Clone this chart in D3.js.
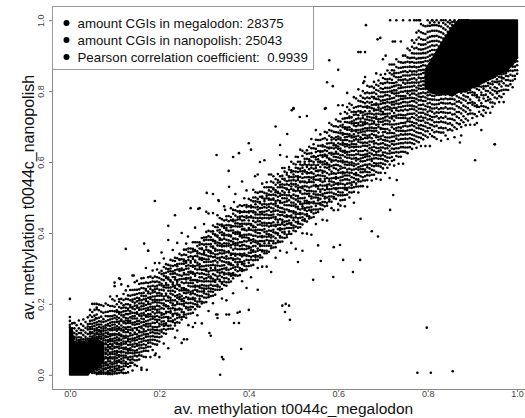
<!DOCTYPE html>
<html>
<head>
<meta charset="utf-8">
<script src="https://cdn.jsdelivr.net/npm/d3@7"></script>
<style>
  html, body { margin: 0; padding: 0; background: #fff; }
  #d3-scatter { width: 525px; height: 418px; overflow: hidden; }
</style>
</head>
<body>
<div id="d3-scatter"></div>
<script>
const parentID = "d3-scatter";

// legend / axis texts
const legendLines = [
  "amount CGIs in megalodon: 28375",
  "amount CGIs in nanopolish: 25043",
  "Pearson correlation coefficient:  0.9939",
];
const tickValues = [0, 0.2, 0.4, 0.6, 0.8, 1.0];
const xTitle = "av. methylation t0044c_megalodon";
const yTitle = "av. methylation t0044c_nanopolish";

// saturated (fully black) regions of the cloud
const lowCoreX = [0, 0.004, 0.008, 0.02, 0.04, 0.045, 0.06, 0.075];
const lowCoreLo = [0, 0, 0, 0, 0, 0.008, 0.02, 0.04];
const lowCoreHi = [0.13, 0.13, 0.095, 0.09, 0.09, 0.095, 0.1, 0.09];

const highCoreX = [0.795, 0.81, 0.825, 0.84, 0.855, 0.87, 0.885, 0.90, 0.915, 0.93, 0.945, 0.96, 0.975, 0.99, 1.0];
const highCoreLo = [0.81, 0.795, 0.79, 0.795, 0.787, 0.80, 0.798, 0.812, 0.818, 0.83, 0.838, 0.85, 0.858, 0.875, 0.895];
const highCoreHi = [0.86, 0.89, 0.922, 0.952, 0.98, 1.0, 1.0, 1.0, 1.0, 1.0, 1.0, 1.0, 1.0, 1.0, 1.0];

// band points: "megalodon x (1/1000): nanopolish - megalodon differences (1/1000)"
const bandDiff = [
  "0:135 141 152 163",
  "5:104 118 126 140",
  "10:92 97 108 121 136",
  "15:83 90 99 109 125",
  "20:75 78 86 98 111 133",
  "25:69 74 80 92 101 118",
  "30:64 70 82 95 108 126",
  "35:60 66 72 84 97 114",
  "40:57 62 75 88 96 103 122",
  "45:-37 -34 52 56 63 71 76 84 90 99 107 123 138",
  "50:-45 -41 -36 49 53 58 67 70 79 86 94 103 113 127 150",
  "55:-50 -47 -40 -33 46 50 56 61 69 74 83 91 100 112 128 145",
  "60:-58 -54 -47 -42 -37 42 47 55 59 66 72 81 88 99 110 125 140",
  "65:-62 -57 -50 -44 -38 -33 38 43 49 57 61 70 77 86 96 117 133",
  "70:-67 -63 -58 -50 -45 -38 -33 31 37 44 51 55 63 72 80 94 108 127",
  "75:-72 -68 -61 -57 -50 -44 -40 -31 22 28 36 41 49 55 61 74 82 100 119",
  "80:-77 -74 -64 -61 -53 -48 -45 -33 -30 -21 -17 -9 -4 6 9 17 26 29 38 45 53 60 71 86 97 121",
  "85:-83 -78 -75 -66 -59 -56 -47 -40 -37 -28 -19 -15 -7 -1 8 13 22 30 34 43 54 58 69 80 93 112",
  "90:-88 -84 -77 -70 -67 -58 -52 -44 -39 -31 -27 -16 -12 -3 5 11 19 24 36 39 48 57 66 75 90 104 131",
  "95:-93 -86 -81 -72 -65 -61 -49 -46 -36 -30 -22 -14 -9 0 6 17 20 31 37 46 54 63 71 85 99 118",
  "100:-96 -91 -83 -77 -68 -62 -55 -49 -41 -34 -24 -21 -10 -4 3 12 16 27 33 42 49 60 68 79 92 109 150",
  "105:-101 -92 -87 -79 -71 -66 -58 -50 -43 -38 -27 -19 -14 -6 1 9 19 25 32 44 51 59 72 77 94 117",
  "110:-105 -97 -90 -85 -74 -69 -59 -54 -45 -36 -30 -23 -13 -8 2 7 18 23 34 40 50 62 67 81 96 103 162",
  "115:-108 -102 -93 -82 -78 -70 -61 -52 -49 -39 -31 -25 -16 -6 -2 10 15 24 37 41 53 61 73 87 99 140",
  "120:-115 -104 -96 -88 -80 -72 -66 -56 -47 -44 -33 -26 -17 -11 1 6 14 26 30 43 48 59 70 76 91 108",
  "125:-120 -100 -94 -89 -76 -71 -63 -53 -48 -37 -32 -20 -15 -5 4 8 20 28 35 46 55 64 74 89 113",
  "130:-123 -108 -99 -86 -81 -69 -62 -57 -46 -35 -29 -22 -9 -3 5 16 22 29 41 52 57 69 83 94 120",
  "135:-110 -101 -93 -84 -73 -65 -60 -50 -42 -34 -24 -18 -8 0 11 17 27 38 44 56 62 75 88 104",
  "140:-128 -106 -96 -89 -79 -71 -60 -55 -43 -38 -28 -15 -10 2 7 19 25 35 47 51 66 72 85 99 140",
  "145:-117 -104 -91 -83 -77 -66 -57 -48 -41 -30 -26 -13 -4 3 14 21 29 40 50 58 69 81 95 116",
  "150:-125 -109 -98 -87 -80 -68 -63 -52 -44 -36 -23 -18 -7 1 9 22 26 39 45 57 67 78 90 115",
  "155:-112 -100 -92 -81 -72 -64 -53 -46 -35 -31 -20 -11 -3 12 15 28 34 46 55 61 75 86 101",
  "160:-140 -106 -95 -84 -76 -67 -59 -49 -40 -28 -24 -12 -1 6 13 24 33 42 50 63 70 85 98 112",
  "165:-114 -98 -90 -79 -69 -62 -51 -43 -37 -25 -16 -8 4 9 21 30 36 48 57 66 79 93 108",
  "170:-120 -102 -93 -86 -74 -63 -56 -47 -33 -27 -19 -6 -2 10 17 27 38 44 53 68 72 90 131",
  "175:-108 -96 -85 -78 -67 -60 -48 -39 -31 -22 -11 -4 8 14 25 31 42 55 60 74 84 100 175",
  "180:-130 -101 -89 -81 -72 -61 -53 -42 -36 -24 -15 -9 3 12 20 34 39 49 62 69 81 97",
  "185:-115 -97 -86 -76 -65 -57 -50 -38 -27 -21 -8 1 7 19 26 36 47 53 66 78 88 109",
  "190:-135 -104 -92 -83 -73 -64 -55 -44 -34 -26 -17 -5 2 15 22 31 44 51 59 72 87 125",
  "195:-110 -99 -88 -78 -69 -61 -46 -40 -29 -19 -12 0 9 16 28 35 48 56 68 80 102",
  "200:-150 -106 -94 -84 -75 -63 -56 -45 -37 -24 -16 -7 4 11 23 31 40 54 61 73 88 115",
  "205:-97 -84 -78 -63 -55 -44 -36 -31 -17 -3 6 18 23 35 47 52 64 79 88 140",
  "210:-122 -93 -81 -72 -66 -59 -48 -39 -24 -14 -9 3 11 28 37 41 57 69 76 94 118",
  "215:-99 -88 -75 -70 -52 -41 -37 -22 -19 -6 9 14 31 39 44 58 62 73 85 97",
  "220:-145 -91 -82 -68 -61 -57 -43 -33 -27 -11 -2 1 17 26 33 49 54 71 78 90 160",
  "225:-95 -86 -74 -65 -50 -46 -38 -21 -15 -8 4 12 21 38 42 59 67 75 83 99",
  "230:-100 -81 -77 -64 -59 -42 -34 -29 -20 -4 7 19 25 30 46 55 61 77 92 122",
  "235:-130 -96 -89 -79 -62 -53 -49 -39 -25 -13 -1 10 16 34 40 51 60 74 86 95",
  "240:-115 -92 -80 -71 -67 -56 -40 -35 -23 -16 2 15 22 27 43 57 66 72 89 132",
  "245:-98 -83 -76 -61 -58 -45 -32 -26 -18 -7 5 8 24 36 48 53 68 79 81 96",
  "250:-160 -94 -87 -73 -66 -51 -42 -37 -28 -12 -5 11 20 29 45 50 63 76 87 150",
  "255:-91 -85 -79 -60 -54 -47 -39 -24 -16 -10 3 16 28 32 41 58 65 70 84 98",
  "260:-99 -90 -72 -69 -57 -41 -30 -22 -19 0 9 13 23 39 47 56 61 78 93 110",
  "265:-125 -93 -82 -75 -63 -52 -48 -33 -27 -14 -6 7 18 25 35 44 59 67 82 91",
  "270:-97 -86 -78 -67 -56 -43 -36 -21 -11 -3 4 17 21 37 46 51 64 75 86 200",
  "275:-140 -100 -84 -74 -62 -58 -45 -38 -26 -17 -8 10 14 30 33 52 58 73 80 99",
  "280:-95 -81 -71 -65 -53 -40 -32 -28 -13 -1 5 19 26 38 42 55 69 72 94 135",
  "285:-117 -92 -87 -79 -61 -50 -47 -35 -23 -18 2 12 24 31 49 57 63 78 89",
  "290:-98 -83 -76 -68 -55 -44 -39 -25 -15 -5 8 15 22 36 40 53 66 77 84 180",
  "295:-150 -94 -89 -73 -60 -51 -42 -31 -20 -9 1 11 29 34 45 59 62 74 91",
  "300:-96 -82 -70 -64 -57 -48 -37 -29 -16 -4 6 18 27 39 44 50 67 79 87 125",
  "305:-100 -88 -77 -62 -54 -41 -33 -23 -12 -7 3 13 20 32 48 56 64 76 83 98",
  "310:-130 -91 -84 -75 -66 -59 -46 -34 -27 -19 -2 9 16 24 37 41 58 70 81 96 145",
  "315:-93 -80 -72 -61 -52 -43 -38 -21 -14 -6 4 19 28 33 47 54 65 73 89",
  "320:-118 -97 -86 -78 -69 -56 -49 -36 -25 -10 0 12 23 38 42 57 61 78 85 101 190",
  "325:-99 -85 -74 -63 -58 -44 -30 -24 -17 -3 7 14 25 30 46 52 68 71 92",
  "330:-170 -90 -81 -76 -60 -53 -40 -35 -22 -13 -1 10 21 35 43 59 63 77 86 95 120",
  "335:-95 -87 -71 -67 -55 -47 -39 -28 -11 -5 8 16 29 36 45 50 66 74 88 107",
  "340:-125 -98 -83 -79 -64 -51 -42 -32 -20 -8 2 11 22 27 41 55 62 79 84 99",
  "345:-92 -82 -73 -62 -57 -45 -36 -26 -15 -2 5 18 26 39 48 53 69 75 90 130",
  "350:-140 -99 -89 -77 -65 -54 -48 -33 -23 -16 -4 13 20 31 44 58 64 72 87 97",
  "355:-94 -86 -72 -68 -59 -43 -38 -27 -10 -7 9 15 24 37 40 51 67 78 93 220",
  "360:-97 -81 -75 -61 -50 -46 -31 -22 -18 -1 6 17 30 33 47 56 61 76 85 110",
  "365:-135 -93 -84 -78 -63 -56 -41 -37 -24 -12 3 10 19 35 42 54 68 73 89 100",
  "370:-90 -88 -74 -66 -52 -44 -34 -29 -14 -5 1 14 27 32 49 57 65 79 94 140",
  "375:-200 -96 -83 -70 -64 -58 -47 -35 -21 -9 -3 7 23 28 43 52 63 70 86 99",
  "380:-99 -85 -79 -62 -55 -42 -39 -26 -17 -6 11 16 21 38 45 59 66 77 82 98",
  "385:-121 -92 -87 -73 -67 -51 -45 -30 -20 -11 2 8 25 34 41 50 62 74 91 160",
  "390:-95 -82 -76 -69 -53 -48 -36 -24 -13 -2 5 19 22 36 46 55 69 71 88 108",
  "395:-150 -98 -89 -71 -60 -57 -40 -32 -19 -8 0 12 29 31 47 53 64 78 84 125",
  "400:-93 -84 -77 -65 -56 -43 -38 -21 -15 -4 9 14 26 35 44 58 61 75 96",
  "405:-130 -97 -80 -72 -61 -54 -46 -33 -25 -10 4 17 20 39 42 56 67 72 87 230",
  "410:-100 -87 -75 -63 -59 -47 -34 -28 -18 -3 6 10 24 33 48 51 63 79 90 112",
  "415:-91 -83 -78 -68 -52 -41 -37 -23 -12 -7 1 15 28 37 43 57 66 74 85 100",
  "420:-180 -119 -96 -86 -70 -64 -50 -44 -31 -20 -11 3 13 21 32 46 54 68 76 93 145",
  "425:-94 -88 -73 -62 -57 -48 -35 -26 -16 -1 8 18 27 34 45 59 62 77 91",
  "430:-125 -99 -82 -79 -66 -53 -42 -39 -22 -9 -2 11 23 30 41 50 69 73 86 109",
  "435:-92 -85 -71 -64 -58 -45 -32 -24 -14 -6 7 16 25 38 47 55 61 78 94 170",
  "440:-135 -97 -90 -76 -60 -51 -43 -36 -19 -13 2 12 22 31 40 58 65 71 89 103",
  "445:-98 -81 -74 -67 -55 -49 -38 -27 -17 -4 5 19 29 36 49 52 63 75 84 120",
  "450:-160 -93 -86 -72 -63 -56 -44 -30 -23 -8 0 9 21 33 44 57 67 79 95 115",
  "455:-96 -84 -78 -65 -53 -46 -34 -25 -11 -3 6 14 26 39 42 53 68 72 87 105",
  "460:-130 -100 -89 -75 -61 -59 -41 -37 -21 -15 3 17 24 30 46 55 60 76 92 240",
  "465:-91 -87 -70 -66 -54 -42 -35 -28 -13 -2 8 11 27 37 48 51 64 77 84 101",
  "470:-120 -95 -83 -79 -62 -57 -47 -31 -20 -10 1 15 20 35 41 59 66 74 90 150",
  "475:-280 -99 -88 -73 -64 -50 -45 -38 -24 -16 -5 10 23 32 43 54 62 78 86 108",
  "480:-94 -82 -77 -68 -58 -48 -33 -22 -14 -1 7 18 28 34 47 56 69 73 93 103",
  "485:-140 -97 -90 -71 -60 -52 -40 -35 -19 -7 4 12 21 38 40 52 61 79 85 130",
  "490:-295 -92 -86 -76 -63 -55 -43 -29 -26 -12 2 16 25 31 45 58 67 70 89 96",
  "495:-123 -98 -81 -72 -67 -51 -46 -34 -18 -9 5 9 29 36 44 53 63 76 82 106",
  "500:-93 -85 -79 -64 -57 -44 -39 -23 -15 -3 8 19 22 37 49 57 65 74 95 250",
  "505:-150 -100 -87 -74 -61 -53 -47 -32 -25 -11 0 13 26 33 42 55 68 79 88 110",
  "510:-95 -83 -78 -69 -56 -42 -36 -21 -13 -6 10 17 24 39 46 50 62 72 91 104",
  "515:-99 -89 -72 -62 -59 -49 -33 -27 -17 -1 3 14 28 30 43 59 66 78 86 120",
  "520:-170 -121 -96 -84 -76 -65 -51 -45 -38 -22 -10 6 11 25 35 47 54 64 71 97 112",
  "525:-91 -86 -73 -60 -55 -41 -34 -26 -14 -4 7 18 20 32 48 52 69 76 84 101",
  "530:-132 -98 -82 -77 -68 -58 -46 -39 -20 -12 1 12 27 38 41 56 61 79 93 103 200",
  "535:-94 -88 -71 -63 -52 -48 -31 -24 -16 -7 9 15 23 34 45 58 67 73 89 108",
  "540:-145 -97 -81 -75 -66 -54 -43 -37 -22 -9 4 16 29 31 44 51 63 75 85 99 125",
  "545:-100 -90 -79 -61 -57 -45 -35 -28 -11 -2 6 13 22 36 48 55 69 72 94 105",
  "550:-125 -93 -84 -74 -67 -50 -42 -33 -19 -15 0 11 25 33 40 57 64 78 87 113 140",
  "555:-190 -96 -89 -72 -63 -56 -47 -30 -23 -5 8 19 21 37 46 53 62 76 91 107",
  "560:-92 -80 -76 -64 -53 -44 -38 -25 -13 -8 2 17 26 39 42 59 68 71 86 102 118",
  "565:-128 -99 -87 -78 -60 -55 -41 -32 -21 -4 5 10 28 35 49 54 65 79 83 100",
  "570:-95 -83 -73 -68 -58 -49 -36 -24 -17 -10 3 15 24 32 47 51 63 74 97 115 180",
  "575:-140 -98 -90 -75 -62 -51 -45 -39 -20 -6 9 18 22 38 43 56 66 77 88 108",
  "580:-91 -85 -77 -66 -57 -43 -34 -27 -15 -1 6 12 27 30 45 58 61 73 94 110 130",
  "585:-115 -97 -82 -71 -61 -52 -40 -31 -18 -12 4 16 21 36 41 55 69 78 85 103 120",
  "590:-230 -126 -93 -88 -79 -64 -54 -47 -35 -22 -7 1 14 25 33 48 57 62 76 95 111",
  "595:-99 -86 -72 -69 -56 -42 -37 -28 -14 -3 10 19 29 34 46 52 67 75 89 106 125",
  "600:-135 -118 -94 -84 -74 -63 -59 -45 -30 -23 -9 2 13 23 37 44 53 65 72 83 99 115 160",
  "605:-128 -113 -99 -91 -78 -66 -57 -48 -35 -24 -17 -3 6 14 27 33 45 58 63 76 84 97 109 131",
  "610:-117 -104 -96 -83 -72 -61 -51 -42 -38 -26 -11 -6 9 19 22 38 44 51 67 72 88 95 112 150",
  "615:-140 -121 -108 -92 -87 -79 -64 -53 -45 -31 -22 -14 0 11 17 29 36 47 55 64 79 83 98 108 126",
  "620:-112 -99 -93 -81 -69 -58 -49 -41 -28 -19 -8 1 8 25 30 42 51 59 71 77 92 104 117 135 175",
  "625:-125 -110 -97 -85 -76 -63 -55 -44 -33 -27 -13 -5 4 16 23 34 48 53 66 73 86 99 103 122 140",
  "630:-116 -103 -95 -88 -73 -60 -52 -38 -31 -21 -10 2 13 21 28 39 44 57 62 79 84 96 111 131",
  "635:-150 -119 -106 -91 -80 -69 -56 -46 -39 -25 -16 -4 7 15 26 35 43 54 68 74 82 98 107 118 148",
  "640:-109 -101 -89 -77 -71 -59 -47 -36 -29 -18 -6 3 10 24 32 46 50 61 70 81 94 101 115 139",
  "645:-131 -114 -100 -94 -82 -67 -60 -50 -37 -23 -15 -2 12 18 29 37 45 59 65 78 87 99 112 128 160",
  "650:-210 -118 -105 -90 -79 -70 -62 -48 -40 -30 -19 -7 5 14 20 34 41 53 64 72 89 93 108 121 137",
  "655:-123 -107 -98 -84 -75 -65 -53 -43 -35 -24 -9 -1 10 22 31 38 49 56 69 76 85 100 114 126 145",
  "660:-112 -100 -87 -81 -68 -57 -46 -39 -26 -14 -5 8 17 26 35 47 52 60 74 83 96 106 119 134 180",
  "665:-135 -116 -102 -93 -80 -73 -59 -49 -42 -33 -20 -11 2 9 24 30 44 55 63 71 88 92 105 117 131 150",
  "670:-108 -99 -88 -76 -63 -54 -44 -31 -22 -12 0 6 19 27 36 48 57 67 73 84 97 110 124 142",
  "675:-270 -127 -111 -97 -85 -72 -66 -52 -41 -34 -18 -8 4 13 22 33 42 50 61 77 86 94 109 120 138",
  "680:-116 -104 -92 -83 -70 -61 -48 -37 -28 -21 -4 7 15 29 34 45 54 65 70 82 99 103 116 129 146",
  "685:-132 -113 -95 -89 -74 -64 -57 -45 -32 -15 -10 3 11 20 37 43 51 62 76 80 93 107 118 133 165",
  "690:-120 -101 -94 -81 -71 -60 -51 -40 -27 -19 -7 9 16 24 31 46 57 64 72 87 95 111 125 140",
  "695:-145 -125 -108 -98 -86 -77 -62 -54 -43 -30 -23 -2 1 18 27 39 48 55 69 78 90 102 113 127 151",
  "700:-118 -105 -92 -80 -73 -59 -47 -38 -25 -16 -6 5 14 23 35 41 53 66 74 85 97 106 121 137 190",
  "705:-136 -112 -101 -89 -78 -67 -56 -44 -35 -20 -12 2 12 21 30 43 50 61 70 83 92 104 118 129 143",
  "710:-126 -108 -97 -86 -71 -63 -50 -41 -29 -17 -3 7 19 26 38 47 59 67 79 88 99 115 123 148",
  "715:-160 -122 -103 -91 -83 -70 -58 -46 -33 -26 -9 -1 10 22 33 39 52 63 71 84 94 108 120 136 160",
  "720:-117 -106 -94 -82 -69 -61 -49 -38 -22 -14 3 9 24 31 42 49 60 75 81 92 103 112 127 139 155",
  "725:-135 -119 -99 -88 -76 -66 -53 -44 -32 -19 -8 4 13 28 37 45 56 68 77 89 98 117 125 133 150",
  "730:-113 -102 -91 -79 -64 -55 -41 -34 -23 -5 1 16 22 35 43 57 64 72 86 95 109 121 138 160",
  "735:-140 -120 -108 -96 -83 -72 -60 -47 -37 -27 -11 -2 9 20 29 40 51 60 73 82 96 104 116 130 148",
  "740:-125 -111 -98 -87 -75 -62 -52 -43 -30 -16 -7 6 15 26 38 46 58 69 76 91 100 113 126 141 200",
  "745:-150 -116 -103 -92 -80 -68 -57 -45 -35 -21 -13 0 12 24 33 41 53 65 79 87 99 110 122 135 155",
  "750:-122 -109 -95 -84 -72 -63 -48 -39 -26 -18 -2 8 19 30 36 50 61 71 83 94 106 118 131 150",
  "755:-130 -114 -101 -90 -77 -66 -55 -40 -33 -20 -9 4 13 25 39 45 57 68 75 89 98 113 128 140 165",
  "760:-118 -105 -93 -81 -70 -58 -46 -37 -24 -11 -1 10 21 29 40 52 63 73 84 97 109 121 133 155",
  "765:-128 -112 -100 -88 -74 -61 -52 -38 -29 -15 -6 7 16 28 37 48 59 70 82 90 103 117 129 142 160 178",
  "770:-119 -107 -95 -82 -69 -60 -46 -33 -22 -13 1 10 23 32 45 54 66 77 86 99 110 124 136 150 166 230",
  "775:-135 -116 -103 -91 -79 -66 -55 -43 -31 -20 -8 3 14 26 35 49 57 71 80 92 105 116 131 147 170 190 225",
  "780:-124 -110 -98 -85 -77 -63 -54 -41 -30 -19 -6 5 13 27 36 44 58 67 79 88 101 113 126 138 153 171 190 220",
  "785:-140 -117 -104 -92 -81 -69 -57 -46 -35 -24 -11 -2 9 21 30 42 51 63 74 85 96 108 121 132 146 162 181 204",
  "790:-126 -113 -99 -88 -73 -65 -51 -42 -28 -18 -5 6 17 28 38 47 61 70 83 92 104 117 128 141 155 173 195",
  "795:-150 -121 -108 -95 -84 -70 -60 -47 -37 -23 -13 -1 11 22 33 44 56 65 77 90 99 112 125 137 150 166 188",
  "800:-130 -113 -104 -90 -80 -67 -58 -44 -35 -22 -12 -3 58 71 84 96 110 123 137 150 167 184 200",
  "805:-160 -126 -109 -99 -84 -75 -60 -51 -38 -28 -15 -6 4 70 83 95 108 121 134 148 163 179 188",
  "810:-137 -120 -106 -92 -83 -68 -59 -47 -34 -23 -10 81 93 106 119 131 145 160 176 190",
  "815:-145 -131 -115 -103 -88 -78 -64 -53 -39 -29 -16 88 101 113 126 140 155 171 179",
  "820:-155 -134 -118 -107 -91 -80 -67 -57 -45 -31 -22 96 110 122 136 150 166 180",
  "825:-141 -129 -113 -102 -86 -76 -61 -50 -36 -26 101 115 128 143 159 168",
  "830:-170 -147 -133 -116 -104 -89 -78 -63 -52 -40 -30 107 121 136 152 170",
  "835:-152 -140 -123 -111 -95 -84 -69 -58 -44 -33 113 127 142 157",
  "840:-165 -144 -129 -112 -101 -86 -75 -61 -50 -37 117 133 148 160",
  "845:-180 -155 -137 -123 -107 -95 -80 -68 -53 -42 122 137 150",
  "850:-158 -141 -128 -111 -99 -84 -72 -61 -47 127 141 150",
  "855:-166 -151 -134 -121 -104 -92 -77 -65 -51 131 140",
  "860:-190 -162 -142 -125 -112 -96 -84 -69 -57 135 140",
  "865:-172 -155 -137 -124 -107 -95 -79 -68 -58 128",
  "870:-163 -146 -129 -116 -99 -88 -72 -63 130",
  "875:-200 -176 -157 -138 -124 -108 -96 -80 -67 125",
  "880:-168 -151 -134 -121 -104 -92 -76 -68 120",
  "885:-181 -163 -143 -129 -112 -100 -84 -72 115",
  "890:-173 -155 -138 -124 -107 -95 -79 110",
  "895:-190 -158 -149 -128 -119 -99 -92",
  "900:-176 -163 -138 -131 -111 -103 -89",
  "905:-200 -170 -147 -139 -117 -110 -95",
  "910:-181 -155 -150 -127 -121 -104 -96",
  "915:-173 -160 -141 -133 -112 -101 -95",
  "920:-230 -186 -162 -154 -131 -124 -108 -97",
  "925:-179 -168 -146 -137 -118 -111 -100",
  "930:-191 -175 -158 -140 -129 -116 -102",
  "935:-183 -161 -152 -135 -120 -112 -104",
  "940:-201 -172 -163 -145 -131 -119 -106",
  "945:-189 -177 -155 -142 -126 -118 -108",
  "950:-300 -185 -168 -150 -139 -124 -110",
  "955:-176 -157 -147 -130 -122 -111",
  "960:-191 -174 -160 -141 -133 -120 -112",
  "965:-182 -163 -152 -137 -125 -118 -113",
  "970:-201 -178 -166 -148 -134 -121 -115",
  "975:-171 -159 -144 -132 -124 -118",
  "980:-177 -165 -149 -138 -122 -117",
  "985:-166 -156 -139 -127 -115",
  "990:-179 -160 -147 -133 -121 -106",
  "995:-161 -152 -136 -126 -113 -111",
  "1000:-151 -141 -127 -116 -106",
];

// isolated points away from the band [megalodon, nanopolish]
const outliers = [
  [0.0, 0.214], [0.01, 0.146], [0.125, 0.355], [0.19, 0.49], [0.235, 0.45], [0.22, 0.42],
  [0.287, 0.468], [0.305, 0.46], [0.32, 0.456], [0.333, 0.49], [0.367, 0.487], [0.347, 0.465],
  [0.264, 0.39], [0.166, 0.37], [0.175, 0.35], [0.143, 0.28], [0.1, 0.26], [0.112, 0.27],
  [0.06, 0.19], [0.058, 0.16], [0.34, 0.05], [0.336, 0.0], [0.383, 0.073], [0.315, 0.11],
  [0.255, 0.1], [0.262, 0.1], [0.28, 0.146], [0.327, 0.17], [0.35, 0.17], [0.367, 0.146],
  [0.378, 0.146], [0.4, 0.183], [0.16, 0.014], [0.172, 0.014], [0.12, 0.005], [0.137, 0.034],
  [0.192, 0.06], [0.343, 0.044], [0.38, 0.178], [0.356, 0.17], [0.33, 0.17], [0.312, 0.118],
  [0.4825, 0.2], [0.481, 0.177], [0.492, 0.155], [0.798, 0.133], [0.777, 0.006], [0.807, 0.006],
  [0.856, 0.01], [0.662, 0.986], [0.716, 1.0], [0.694, 0.95], [0.727, 0.94], [0.722, 0.94],
  [0.645, 0.91], [0.65, 0.91], [0.66, 0.91], [0.58, 0.887], [0.6, 0.86], [0.575, 0.825],
  [0.588, 0.814], [0.658, 0.828], [0.656, 0.823], [0.5, 0.752], [0.706, 0.9], [0.688, 0.946],
  [0.783, 1.0], [0.835, 1.0], [0.924, 0.73], [0.95, 0.65], [0.906, 0.605], [0.872, 0.655],
  [0.966, 0.836], [0.98, 0.856], [0.328, 0.62], [0.365, 0.614], [0.378, 0.625], [0.4, 0.653],
  [0.47, 0.648], [0.486, 0.679], [0.496, 0.746], [0.514, 0.727], [0.572, 0.752], [0.306, 0.513],
  [0.356, 0.53], [0.332, 0.493], [0.425, 0.6], [0.414, 0.56], [0.689, 0.39], [0.649, 0.324],
  [0.633, 0.29], [0.604, 0.366], [0.589, 0.276], [0.544, 0.268], [0.51, 0.318], [0.561, 0.321],
  [0.611, 0.324], [0.723, 0.507], [0.716, 0.465], [0.731, 0.549], [0.872, 0.707], [0.91, 0.71],
  [0.955, 0.794], [0.73, 1.0], [0.745, 1.0], [0.76, 1.0], [0.81, 1.0],
];

const CONFIGS = {
  width: 525,
  height: 418,
  box: { left: 52, right: 535, top: 6, bottom: 389 },
  domain: [-0.04, 1.04],
  dotRadius: 1.3,
  font: "'Liberation Sans', Arial, Helvetica, sans-serif",
  legend: { width: 261, height: 63, rowStart: 22.5, rowStep: 17, bulletX: 14, textX: 25 },
};

const points = [];
bandDiff.forEach(row => {
  const [key, vals] = row.split(":");
  const mx = +key / 1000;
  vals.trim().split(/\s+/).forEach(v => points.push([mx, mx + (+v) / 1000]));
});
outliers.forEach(p => points.push(p));

const box = CONFIGS.box;
const x = d3.scaleLinear().domain(CONFIGS.domain).range([box.left, box.right]);
const y = d3.scaleLinear().domain(CONFIGS.domain).range([box.bottom, box.top]);

const svg = d3.create("svg")
  .attr("width", CONFIGS.width)
  .attr("height", CONFIGS.height)
  .attr("viewBox", [0, 0, CONFIGS.width, CONFIGS.height])
  .style("font-family", CONFIGS.font)
  .style("background", "#fff");

// saturated regions
const area = (xs, lo, hi) => d3.area()
  .x((d, i) => x(xs[i]))
  .y0((d, i) => y(lo[i]))
  .y1((d, i) => y(hi[i]))(xs);

svg.append("g")
  .selectAll("path")
  .data([[lowCoreX, lowCoreLo, lowCoreHi], [highCoreX, highCoreLo, highCoreHi]])
  .join("path")
  .attr("d", d => area(...d))
  .attr("fill", "#000")
  .attr("stroke", "#000")
  .attr("stroke-width", 2)
  .attr("stroke-linejoin", "round");

svg.append("g")
  .selectAll("circle")
  .data(points)
  .join("circle")
  .attr("cx", d => x(d[0]))
  .attr("cy", d => y(d[1]))
  .attr("r", CONFIGS.dotRadius)
  .attr("fill", "#000");

// axes
const xAxis = svg.append("g")
  .attr("transform", `translate(0,${box.bottom})`)
  .call(d3.axisBottom(x).tickValues(tickValues).tickFormat(d3.format(".1f")).tickSize(3));
const yAxis = svg.append("g")
  .attr("transform", `translate(${box.left},0)`)
  .call(d3.axisLeft(y).tickValues(tickValues).tickFormat(d3.format(".1f")).tickSize(3));

[xAxis, yAxis].forEach(g => {
  g.select(".domain").remove();
  g.selectAll(".tick line").attr("stroke", "#777");
  g.selectAll(".tick text")
    .attr("fill", "#444")
    .attr("font-size", 9)
    .attr("font-family", CONFIGS.font);
});
xAxis.selectAll(".tick text")
  .attr("y", 2)
  .attr("dy", "0.71em");
yAxis.selectAll(".tick text")
  .attr("transform", "rotate(-90)")
  .attr("x", 0)
  .attr("y", -8)
  .attr("dy", "0")
  .attr("text-anchor", "middle");

svg.append("rect")
  .attr("x", box.left + 0.5)
  .attr("y", box.top + 0.5)
  .attr("width", box.right - box.left)
  .attr("height", box.bottom - box.top)
  .attr("fill", "none")
  .attr("stroke", "#888");

// legend
const lg = CONFIGS.legend;
const legend = svg.append("g").attr("transform", `translate(${box.left + 0.5},${box.top + 0.5})`);
legend.append("rect")
  .attr("width", lg.width)
  .attr("height", lg.height)
  .attr("fill", "#fff")
  .attr("stroke", "#999");
const rows = legend.selectAll("g.row")
  .data(legendLines)
  .join("g")
  .attr("class", "row")
  .attr("transform", (d, i) => `translate(0,${lg.rowStart - box.top + i * lg.rowStep})`);
rows.append("circle")
  .attr("cx", lg.bulletX)
  .attr("r", 3)
  .attr("fill", "#000");
rows.append("text")
  .attr("x", lg.textX)
  .attr("dy", "0.36em")
  .attr("font-size", 13.3)
  .attr("fill", "#111")
  .style("white-space", "pre")
  .text(d => d);

// axis titles
svg.append("text")
  .attr("x", (box.left + box.right) / 2)
  .attr("y", 414)
  .attr("text-anchor", "middle")
  .attr("font-size", 15.5)
  .attr("fill", "#111")
  .text(xTitle);
svg.append("text")
  .attr("transform", `translate(34,${(box.top + box.bottom) / 2}) rotate(-90)`)
  .attr("text-anchor", "middle")
  .attr("font-size", 16)
  .attr("fill", "#111")
  .text(yTitle);

document.getElementById(parentID).append(svg.node());
</script>
</body>
</html>
